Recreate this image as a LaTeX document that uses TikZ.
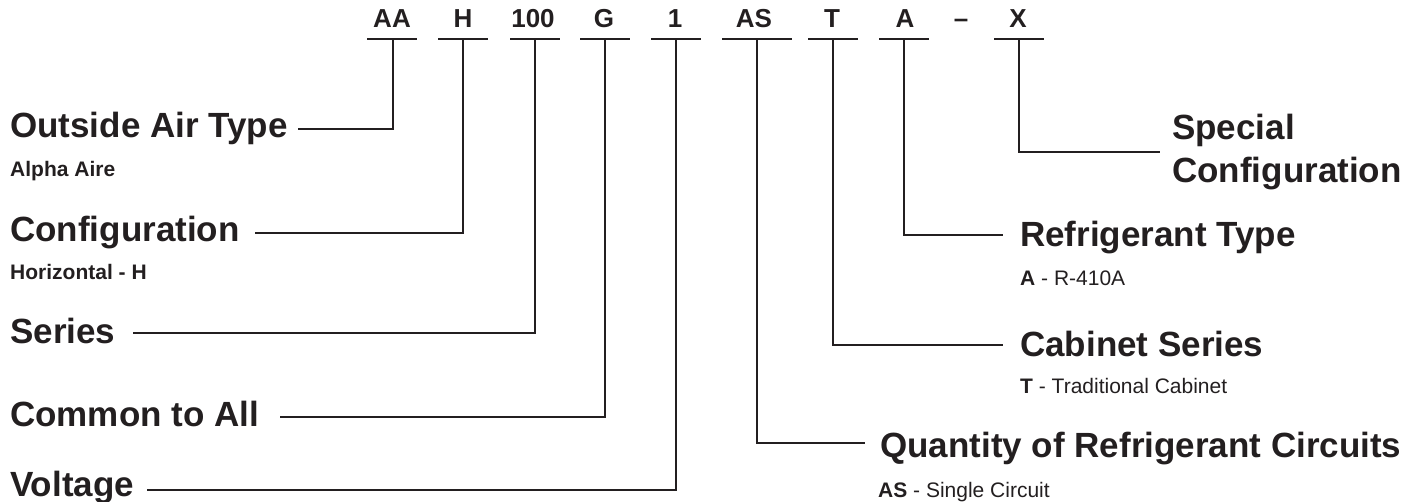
\documentclass[tikz,border=0pt]{standalone}
\usepackage{fontspec}
\setmainfont{Liberation Sans}
\definecolor{ink}{HTML}{231F20}
\begin{document}
\begin{tikzpicture}[x=1pt,y=-1pt,
  code/.style={font=\fontsize{26}{28}\selectfont\bfseries, anchor=base, text=ink, inner sep=0pt},
  big/.style={font=\fontsize{35}{40}\selectfont\bfseries, anchor=base west, inner sep=0pt, text=ink},
  small/.style={font=\fontsize{21}{24}\selectfont, anchor=base west, inner sep=0pt, text=ink},
  smallb/.style={small, font=\fontsize{21}{24}\selectfont\bfseries},
  conn/.style={draw=ink, line width=2.3pt, line join=miter},
  uline/.style={draw=ink, line width=2.3pt}]
\useasboundingbox (0,0) rectangle (1415,502);

% code letters
\node[code] (cAA) at (392,28) {AA};
\node[code] (cH) at (463,28) {H};
\node[code] (c100) at (533,28) {100};
\node[code] (cG) at (604,28) {G};
\node[code] (c1) at (675,28) {1};
\node[code] (cAS) at (754,28) {AS};
\node[code] (cT) at (832,28) {T};
\node[code] (cA) at (905,28) {A};
\node[code] (cD) at (961,28) {–};
\node[code] (cX) at (1018,28) {X};

% underlines
\foreach \a/\b in {367/417, 438/488, 510/560, 580/630, 651/701, 722/792, 808/858, 879/929, 994/1044}
  \draw[uline] (\a,39) -- (\b,39);

% left labels
\node[big] (lOut) at (10,138) {Outside Air Type};
\node[smallb] (sOut) at (10,177) {Alpha Aire};
\node[big] (lConf) at (10,242) {Configuration};
\node[smallb] (sConf) at (10,280) {Horizontal - H};
\node[big] (lSer) at (10,343) {Series};
\node[big] (lCom) at (10,426) {Common to All};
\node[big] (lVol) at (10,496) {Voltage};

% right labels
\node[big] (lSpec1) at (1172,140) {Special};
\node[big] (lSpec2) at (1172,183) {Configuration};
\node[big] (lRef) at (1020,247) {Refrigerant Type};
\node[small] (sRef) at (1020,286) {\textbf{A} - R-410A};
\node[big] (lCab) at (1020,356) {Cabinet Series};
\node[small] (sCab) at (1020,393) {\textbf{T} - Traditional Cabinet};
\node[big] (lQty) at (880,457) {Quantity of Refrigerant Circuits};
\node[small] (sQty) at (878,497) {\textbf{AS} - Single Circuit};

% connector ends
\coordinate (tAA) at (393,39);  \coordinate (eAA) at (298,129);
\coordinate (tH) at (463,39);   \coordinate (eH) at (255,233);
\coordinate (t100) at (535,39); \coordinate (e100) at (133,333);
\coordinate (tG) at (605,39);   \coordinate (eG) at (280,417);
\coordinate (t1) at (676,39);   \coordinate (e1) at (147,490);
\coordinate (tAS) at (757,39);  \coordinate (eAS) at (865,443);
\coordinate (tT) at (833,39);   \coordinate (eT) at (1003,345);
\coordinate (tA) at (904,39);   \coordinate (eA) at (1003,235);
\coordinate (tX) at (1019,39);  \coordinate (eX) at (1160,152);

\foreach \n in {AA,H,100,G,1,AS,T,A,X}
  \draw[conn] (t\n) |- (e\n);
\end{tikzpicture}
\end{document}
